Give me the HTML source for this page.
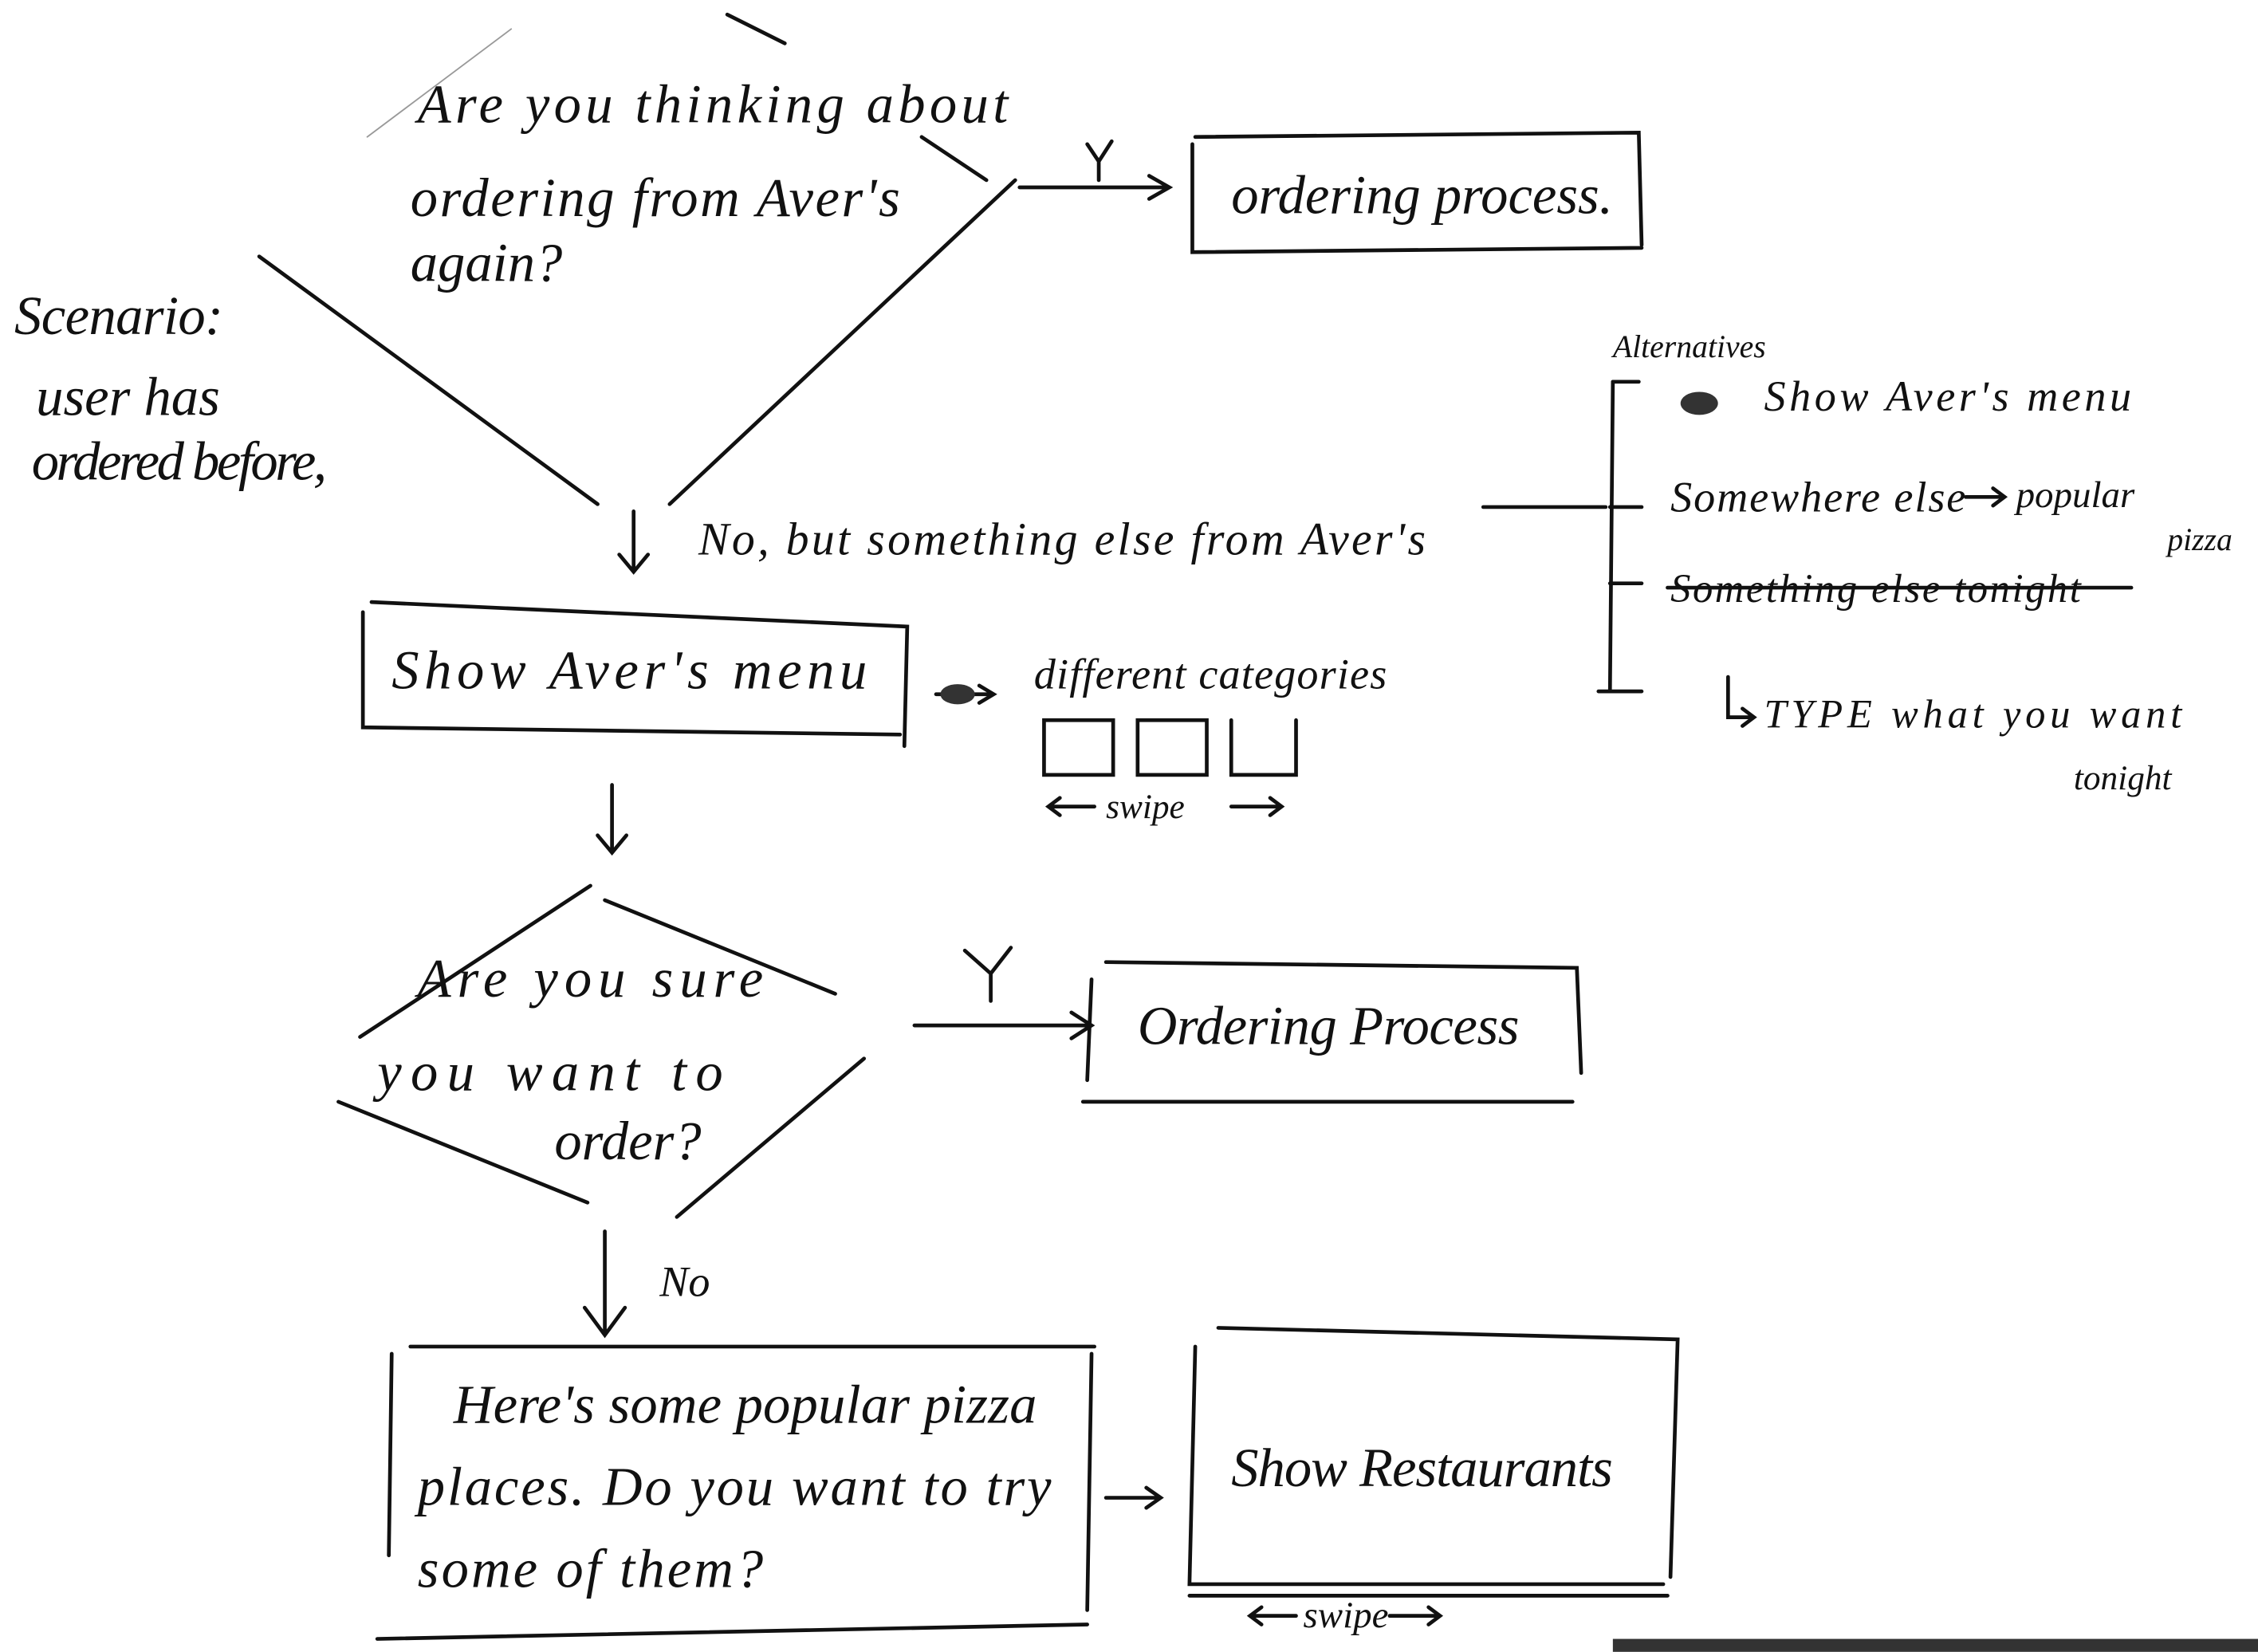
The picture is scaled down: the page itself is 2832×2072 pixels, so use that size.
<!DOCTYPE html>
<html><head><meta charset="utf-8">
<style>
html,body{margin:0;padding:0;background:#fff;}
svg{display:block;}
text{font-family:"Liberation Serif",serif;font-style:italic;fill:#111;}
</style></head>
<body>
<svg width="2832" height="2072" viewBox="0 0 1568 1147" xmlns="http://www.w3.org/2000/svg">
<rect width="1568" height="1147" fill="#fff"/>
<g stroke="#111" stroke-width="2.6" fill="none" stroke-linecap="round">
  <path d="M180 178 L415 350"/>
  <path d="M465 350 L705 125"/>
  <path d="M255 95 L355 20" stroke="#999" stroke-width="1"/>
  <path d="M505 10 L545 30"/>
  <path d="M640 95 L685 125"/>
  <path d="M708 130 L812 130 M798 122 L812 130 L798 138"/>
  <path d="M755 100 L763 112 L772 98 M763 112 L763 125"/>
  <path d="M830 95 L1138 92 L1140 170 M828 100 L828 175 L1140 172"/>
  <path d="M440 355 L440 395 M430 385 L440 397 L450 385"/>
  <path d="M1030 352 L1115 352"/>
  <path d="M1120 265 L1118 480"/>
  <path d="M1120 265 L1138 265 M1118 352 L1140 352 M1118 405 L1140 405 M1110 480 L1140 480"/>
  <path d="M1158 408 L1480 408"/>
  <path d="M1200 470 L1200 498 L1218 498 M1210 492 L1218 498 L1210 504"/>
  <path d="M1365 345 L1392 345 M1384 339 L1392 345 L1384 351"/>
  <path d="M258 418 L630 435 L628 518 M252 425 L252 505 L625 510"/>
  <path d="M650 482 L690 482 M680 476 L690 482 L680 488"/>
  <rect x="725" y="500" width="48" height="38"/>
  <rect x="790" y="500" width="48" height="38"/>
  <path d="M855 500 L855 538 L900 538 L900 500"/>
  <path d="M728 560 L760 560 M736 554 L728 560 L736 566 M855 560 L890 560 M882 554 L890 560 L882 566"/>
  <path d="M425 545 L425 590 M415 580 L425 592 L435 580"/>
  <path d="M250 720 L410 615"/>
  <path d="M420 625 L580 690"/>
  <path d="M235 765 L408 835"/>
  <path d="M470 845 L600 735"/>
  <path d="M635 712 L758 712 M744 703 L758 712 L744 721"/>
  <path d="M670 660 L688 676 L702 658 M688 676 L688 695"/>
  <path d="M768 668 L1095 672 L1098 745 M758 680 L755 750 M752 765 L1092 765"/>
  <path d="M420 855 L420 925 M406 908 L420 927 L434 908"/>
  <path d="M285 935 L760 935 M272 940 L270 1080 M758 940 L755 1118 M262 1138 L755 1128"/>
  <path d="M768 1040 L806 1040 M796 1033 L806 1040 L796 1047"/>
  <path d="M846 922 L1165 930 L1160 1095 M830 935 L826 1100 L1155 1100 M826 1108 L1158 1108"/>
  <path d="M868 1122 L900 1122 M876 1116 L868 1122 L876 1128 M965 1122 L1000 1122 M992 1116 L1000 1122 L992 1128"/>
</g>
<ellipse cx="1180" cy="280" rx="13" ry="8" fill="#333"/>
<ellipse cx="665" cy="482" rx="12" ry="7" fill="#333"/>
<rect x="1120" y="1138" width="448" height="9" fill="#333"/>
<g font-size="38">
  <text x="290" y="85" textLength="410">Are you thinking about</text>
  <text x="285" y="150" textLength="340">ordering from Aver's</text>
  <text x="285" y="195">again?</text>
  <text x="855" y="148" textLength="265">ordering process.</text>
  <text x="10" y="232" textLength="145">Scenario:</text>
  <text x="25" y="288">user has</text>
  <text x="22" y="333" textLength="205">ordered before,</text>
  <text x="485" y="385" font-size="32" textLength="505">No, but something else from Aver's</text>
  <text x="1120" y="248" font-size="22">Alternatives</text>
  <text x="1225" y="285" font-size="30" textLength="255">Show Aver's menu</text>
  <text x="1160" y="355" font-size="30" textLength="205">Somewhere else</text>
  <text x="1400" y="352" font-size="26">popular</text>
  <text x="1505" y="382" font-size="22">pizza</text>
  <text x="1160" y="418" font-size="28" textLength="285">Something else tonight</text>
  <text x="1225" y="505" font-size="28" textLength="290">TYPE what you want</text>
  <text x="1440" y="548" font-size="24">tonight</text>
  <text x="272" y="478" textLength="330">Show Aver's menu</text>
  <text x="718" y="478" font-size="30" textLength="245">different categories</text>
  <text x="768" y="568" font-size="24">swipe</text>
  <text x="290" y="692" textLength="240">Are you sure</text>
  <text x="262" y="757" textLength="240">you want to</text>
  <text x="385" y="805">order?</text>
  <text x="790" y="725" textLength="265">Ordering Process</text>
  <text x="458" y="900" font-size="30">No</text>
  <text x="315" y="988" textLength="405">Here's some popular pizza</text>
  <text x="290" y="1045" textLength="440">places. Do you want to try</text>
  <text x="290" y="1102" textLength="240">some of them?</text>
  <text x="855" y="1032" textLength="265">Show Restaurants</text>
  <text x="905" y="1130" font-size="26">swipe</text>
</g>
</svg>
</body></html>
